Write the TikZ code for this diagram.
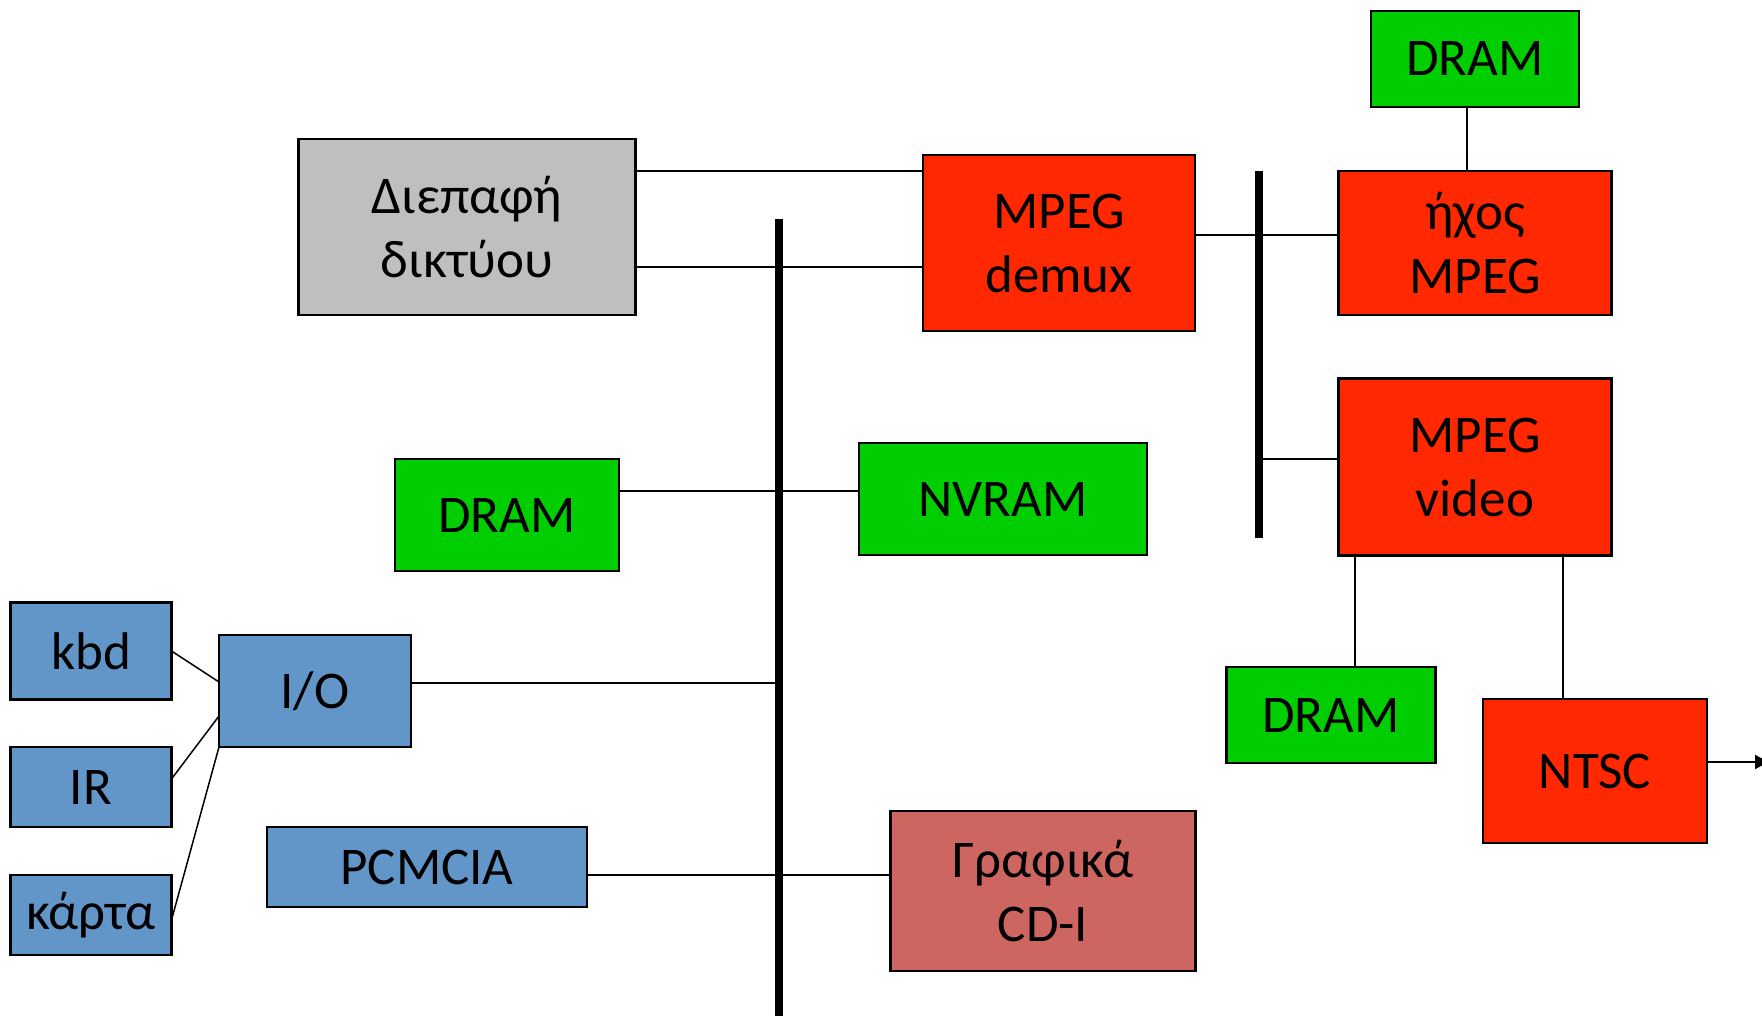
\documentclass[tikz,border=0pt]{standalone}
\usepackage{fontspec}
\setmainfont{Carlito}
\usetikzlibrary{arrows.meta}

\definecolor{memgreen}{RGB}{0,206,0}
\definecolor{mpegred}{RGB}{255,40,0}
\definecolor{ioblue}{RGB}{99,150,200}
\definecolor{netgray}{RGB}{191,191,191}
\definecolor{gfxred}{RGB}{205,102,96}

\begin{document}
\begin{tikzpicture}[x=1pt, y=-1pt, line cap=butt, line join=miter,
  unit/.style={draw, line width=2.5pt, inner sep=0pt, outer sep=0pt, align=center,
    font=\fontsize{53}{64}\selectfont},
  wire/.style={line width=2pt},
  thinwire/.style={line width=1.5pt},
  bus/.style={line width=8pt}]

  %% ==== boxes ====
  \node[unit, fill=netgray, minimum width=337pt, minimum height=176pt] (net) at (467,227) {Διεπαφή\\δικτύου};
  \node[unit, fill=mpegred, minimum width=272pt, minimum height=176pt] (demux) at (1059,243) {MPEG\\demux};
  \node[unit, fill=memgreen, minimum width=208pt, minimum height=96pt] (dramT) at (1475,59) {DRAM};
  \node[unit, fill=mpegred, minimum width=273pt, minimum height=144pt] (audio) at (1475,243) {ήχος\\MPEG};
  \node[unit, fill=mpegred, minimum width=273pt, minimum height=177pt] (video) at (1475,467) {MPEG\\video};
  \node[unit, fill=memgreen, minimum width=224pt, minimum height=112pt] (dramL) at (507,515) {DRAM};
  \node[unit, fill=memgreen, minimum width=288pt, minimum height=112pt] (nvram) at (1003,499) {NVRAM};
  \node[unit, fill=ioblue, minimum width=161pt, minimum height=97pt] (kbd) at (91,651) {kbd};
  \node[unit, fill=ioblue, minimum width=192pt, minimum height=112pt] (io) at (315,691) {I/O};
  \node[unit, fill=ioblue, minimum width=161pt, minimum height=80pt] (ir) at (91,787) {IR};
  \node[unit, fill=ioblue, minimum width=161pt, minimum height=80pt] (card) at (91,915) {κάρτα};
  \node[unit, fill=ioblue, minimum width=320pt, minimum height=80pt] (pcmcia) at (427,867) {PCMCIA};
  \node[unit, fill=gfxred, minimum width=305pt, minimum height=160pt] (gfx) at (1043,891) {Γραφικά\\CD-I};
  \node[unit, fill=memgreen, minimum width=209pt, minimum height=96pt] (dramB) at (1331,715) {DRAM};
  \node[unit, fill=mpegred, minimum width=224pt, minimum height=144pt] (ntsc) at (1595,771) {NTSC};

  %% ==== bus ends ====
  \coordinate (bus1top) at (779,219);
  \coordinate (bus1bot) at (779,1016);
  \coordinate (bus2top) at (1258.5,171);
  \coordinate (bus2bot) at (1258.5,538);
  \coordinate (out) at (1772,762);

  %% ==== connectors ====
  \draw[wire] (net.east |- 0,171) -- (demux.west |- 0,171);
  \draw[wire] (net.east |- 0,267) -- (demux.west |- 0,267);
  \draw[wire] (dramL.east |- 0,491) -- (nvram.west |- 0,491);
  \draw[wire] (io.east |- 0,683) -- (bus1top |- 0,683);
  \draw[wire] (pcmcia.east |- 0,875) -- (gfx.west |- 0,875);
  \draw[wire] (demux.east |- 0,235) -- (audio.west |- 0,235);
  \draw[wire] (bus2top |- 0,458.5) -- (video.west |- 0,458.5);
  \draw[wire] (dramT.south -| 1467,0) -- (audio.north -| 1467,0);
  \draw[wire] (video.south -| 1354.5,0) -- (dramB.north -| 1354.5,0);
  \draw[wire] (video.south -| 1562.5,0) -- (ntsc.north -| 1562.5,0);
  \draw[wire, -{Latex[length=17pt, width=15pt]}] (ntsc.east |- out) -- (out);

  \draw[thinwire] (kbd.east) -- (io.west |- 0,682);
  \draw[thinwire] (ir.east |- 0,779) -- (io.west |- 0,716);
  \draw[thinwire] (card.east |- 0,920) -- (io.south west);

  %% ==== buses on top ====
  \draw[bus] (bus1top) -- (bus1bot);
  \draw[bus] (bus2top) -- (bus2bot);

  \pgfresetboundingbox
  \path[use as bounding box] (0,0) rectangle (1762,1016);
\end{tikzpicture}
\end{document}
